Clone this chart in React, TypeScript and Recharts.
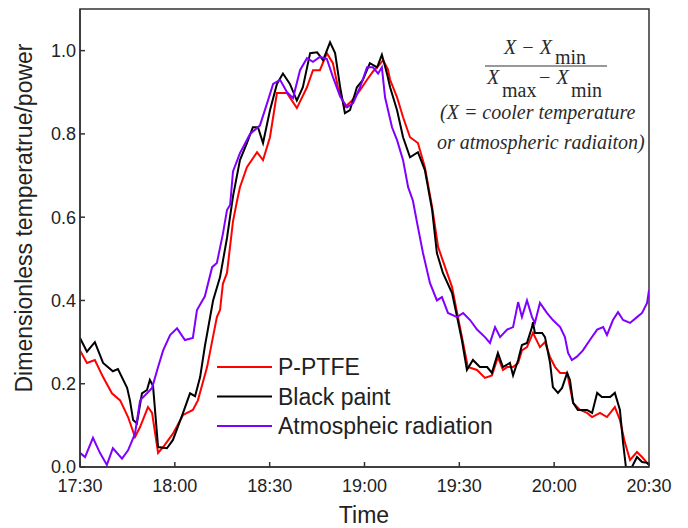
import { LineChart, Line, XAxis, YAxis, ReferenceArea } from 'recharts';

// minutes after 17:30, normalized value
const pptfe: [number, number][] = [
  [0, 0.28], [2.2, 0.25], [4.7, 0.257], [7.3, 0.216], [10.1, 0.177], [12.7, 0.16], [15.2, 0.12],
  [17.4, 0.072], [19, 0.096], [21.5, 0.144], [22.8, 0.13], [24.7, 0.034], [26.3, 0.048], [29.4, 0.08],
  [32.6, 0.125], [35.7, 0.137], [37.3, 0.16], [40.2, 0.24], [43.3, 0.36], [44.3, 0.377], [45.2, 0.44],
  [46.5, 0.466], [48.4, 0.59], [49.7, 0.64], [50.6, 0.672], [52.8, 0.72], [56, 0.756], [57.9, 0.737],
  [60.1, 0.792], [62.3, 0.898], [65.5, 0.898], [68.6, 0.862], [71.8, 0.912], [73.7, 0.953], [75.9, 0.953],
  [78.1, 0.994], [80, 0.97], [81.6, 0.912], [83.8, 0.864], [86, 0.88], [88.6, 0.905], [90.8, 0.93],
  [92.7, 0.95], [94, 0.96], [95.9, 0.977], [97.4, 0.955], [98.1, 0.93], [100.3, 0.888], [102.2, 0.84],
  [104.4, 0.792], [106.9, 0.778], [109.1, 0.72], [111.4, 0.624], [113.3, 0.528], [115.5, 0.48],
  [117.7, 0.432], [119.3, 0.37], [121.2, 0.298], [122.7, 0.24], [125.6, 0.233], [128.1, 0.214],
  [130.3, 0.22], [132.2, 0.264], [133.8, 0.233], [135.1, 0.24], [137, 0.24], [138.6, 0.25], [139.8, 0.28],
  [141.4, 0.288], [143.3, 0.322], [145.5, 0.288], [147.1, 0.3], [148.7, 0.264], [150.3, 0.24],
  [151.9, 0.226], [154.1, 0.226], [155, 0.192], [156, 0.154], [158.2, 0.137], [160.4, 0.13], [162, 0.12],
  [164.5, 0.13], [166.7, 0.12], [169.2, 0.144], [170.8, 0.113], [172.4, 0.058], [174, 0.017],
  [176.2, 0.036], [177.8, 0.024], [179.4, 0.01], [180, 0.005],
];

const blackPaint: [number, number][] = [
  [0, 0.31], [2.2, 0.277], [4.7, 0.3], [7.3, 0.25], [10.4, 0.23], [12, 0.235], [14.9, 0.19], [15.8, 0.16],
  [16.8, 0.113], [18, 0.105], [19.6, 0.177], [21.2, 0.185], [22.1, 0.209], [23.1, 0.195], [24.7, 0.048],
  [27.5, 0.045], [29.4, 0.065], [32.6, 0.13], [34.8, 0.177], [36.4, 0.17], [38, 0.216], [39.5, 0.29],
  [42.1, 0.4], [44.3, 0.456], [46.5, 0.55], [48.4, 0.65], [50.6, 0.737], [52.8, 0.778], [54.7, 0.816],
  [56.3, 0.816], [57.9, 0.778], [60.1, 0.857], [62.3, 0.92], [64.2, 0.945], [66.4, 0.92], [68.6, 0.88],
  [70.5, 0.912], [72.8, 0.994], [75, 0.996], [76.9, 0.977], [79.1, 1.02], [80.7, 0.994], [82.3, 0.912],
  [83.8, 0.85], [85.4, 0.857], [87.6, 0.912], [89.5, 0.93], [91.7, 0.97], [94, 0.96], [95.5, 0.99],
  [97.1, 0.945], [98.1, 0.912], [100.3, 0.857], [102.2, 0.792], [104.4, 0.744], [106.9, 0.756],
  [109.1, 0.713], [111.4, 0.617], [112.9, 0.514], [114.8, 0.466], [117.7, 0.418], [119.3, 0.36],
  [120.8, 0.305], [122.4, 0.233], [124.3, 0.257], [126.5, 0.24], [128.8, 0.24], [130.3, 0.226],
  [132.2, 0.274], [133.8, 0.24], [136, 0.25], [137, 0.22], [138.6, 0.257], [139.8, 0.293], [141.4, 0.298],
  [143, 0.336], [143.3, 0.348], [143.9, 0.322], [146.2, 0.322], [147.1, 0.312], [148.7, 0.25],
  [149.6, 0.192], [151.2, 0.178], [152.5, 0.19], [154.1, 0.226], [155, 0.209], [156, 0.154],
  [157.5, 0.137], [160.4, 0.137], [162, 0.13], [163.6, 0.178], [165.1, 0.168], [167.7, 0.168],
  [169.2, 0.178], [170.8, 0.137], [171.8, 0.058], [172.7, 0.0], [174.6, 0.0], [176.2, 0.024],
  [177.8, 0.012], [179.4, 0.01], [180, 0.005],
];

const atmospheric: [number, number][] = [
  [0, 0.034], [1.6, 0.024], [4.1, 0.07], [6.3, 0.034], [8.5, 0.005], [10.4, 0.045], [13.3, 0.02],
  [15.2, 0.04], [17.4, 0.08], [19, 0.16], [21.2, 0.177], [22.8, 0.19], [24.7, 0.24], [26.3, 0.28],
  [28.5, 0.317], [30.7, 0.333], [33.2, 0.305], [35.7, 0.31], [37, 0.377], [39.5, 0.41], [41.8, 0.48],
  [43.3, 0.49], [45.2, 0.56], [46.5, 0.617], [47.5, 0.63], [48.4, 0.71], [50.6, 0.754], [53.8, 0.8],
  [56.9, 0.82], [59.2, 0.874], [61.1, 0.92], [63.3, 0.93], [65.5, 0.9], [67.4, 0.886], [69.6, 0.953],
  [71.8, 0.982], [73.7, 0.973], [75.9, 0.985], [78.1, 0.98], [80, 0.937], [82.3, 0.89], [84.5, 0.864],
  [86.4, 0.874], [88.6, 0.912], [90.8, 0.96], [92.7, 0.96], [94.3, 0.945], [95.5, 0.96], [96.5, 0.888],
  [98.7, 0.816], [100.3, 0.785], [102.2, 0.737], [103.8, 0.672], [105.3, 0.64], [106.9, 0.576],
  [108.5, 0.514], [110.7, 0.442], [112.9, 0.4], [114.5, 0.408], [116.4, 0.37], [119.3, 0.36],
  [121.2, 0.37], [123.4, 0.353], [125.6, 0.33], [128.1, 0.312], [129.7, 0.298], [131.3, 0.336],
  [132.9, 0.312], [135.1, 0.33], [137, 0.336], [138.6, 0.396], [139.8, 0.36], [141.4, 0.4], [143, 0.36],
  [143.9, 0.346], [145.5, 0.394], [147.7, 0.37], [149.6, 0.353], [151.9, 0.336], [153.4, 0.312],
  [154.4, 0.274], [155.6, 0.257], [157.2, 0.265], [159.1, 0.28], [161.3, 0.305], [163.6, 0.33],
  [165.5, 0.336], [166.7, 0.317], [168.6, 0.353], [170.2, 0.372], [171.8, 0.353], [174, 0.346],
  [176.2, 0.36], [177.8, 0.37], [179.4, 0.394], [180, 0.425],
];

const xTicks = [0, 30, 60, 90, 120, 150, 180];
const xTickLabels = ['17:30', '18:00', '18:30', '19:00', '19:30', '20:00', '20:30'];
const yTicks = [0, 0.2, 0.4, 0.6, 0.8, 1.0];

const seriesNames = ['P-PTFE', 'Black paint', 'Atmospheic radiation'];
const seriesColors = ['#ff0000', '#000000', '#8000ff'];

const toRows = (pts: [number, number][]) => pts.map(([t, v]) => ({ t, v }));

const SANS = '"Liberation Sans", Arial, sans-serif';
const SERIF = '"Liberation Serif", "Times New Roman", serif';
const AXIS = '#333333';

export default function App() {
  const series = [pptfe, blackPaint, atmospheric];
  return (
    <div style={{ position: 'absolute', left: 0, top: 0, width: 688, height: 528, background: '#fff' }}>
      <LineChart width={688} height={528} margin={{ top: 9, right: 39, left: 0, bottom: 0 }}>
        <XAxis
          dataKey="t"
          type="number"
          domain={[0, 180]}
          ticks={xTicks}
          tickFormatter={(v) => xTickLabels[xTicks.indexOf(v)] ?? ''}
          height={61}
          tickSize={-5}
          tickMargin={17}
          stroke={AXIS}
          strokeWidth={1.5}
          tick={{ fill: '#222', fontSize: 18, fontFamily: SANS }}
          allowDataOverflow
        />
        <YAxis
          type="number"
          domain={[0, 1.1]}
          ticks={yTicks}
          tickFormatter={(v) => v.toFixed(1)}
          width={80}
          tickSize={-5}
          tickMargin={9}
          stroke={AXIS}
          strokeWidth={1.5}
          tick={{ fill: '#222', fontSize: 18, fontFamily: SANS }}
          allowDataOverflow
        />
        <ReferenceArea x1={0} x2={180} y1={0} y2={1.1} fill="none" stroke={AXIS} strokeWidth={1.5} />
        {series.map((pts, i) => (
          <Line
            key={seriesNames[i]}
            data={toRows(pts)}
            dataKey="v"
            name={seriesNames[i]}
            type="linear"
            stroke={seriesColors[i]}
            strokeWidth={2}
            dot={false}
            isAnimationActive={false}
          />
        ))}
      </LineChart>

      <svg width={688} height={528} style={{ position: 'absolute', left: 0, top: 0, pointerEvents: 'none' }}>
        {/* axis titles */}
        <text
          x={24}
          y={218}
          transform="rotate(-90 24 218)"
          textAnchor="middle"
          dominantBaseline="central"
          fontFamily={SANS}
          fontSize={23}
          fill="#222"
        >
          Dimensionless temperatrue/power
        </text>
        <text x={364} y={515} textAnchor="middle" dominantBaseline="central" fontFamily={SANS} fontSize={23} fill="#222">
          Time
        </text>

        {/* legend */}
        {seriesNames.map((name, i) => (
          <g key={name}>
            <line x1={217} x2={272} y1={367 + i * 29.5} y2={367 + i * 29.5} stroke={seriesColors[i]} strokeWidth={2} />
            <text x={278} y={367 + i * 29.5} dominantBaseline="central" fontFamily={SANS} fontSize={23} fill="#222">
              {name}
            </text>
          </g>
        ))}

        {/* normalisation formula */}
        <g fontFamily={SERIF} fontSize={20} fill="#2a2a2a">
          <text x={504} y={54} fontStyle="italic">X − X</text>
          <text x={555} y={64}>min</text>
          <line x1={485} x2={607} y1={66} y2={66} stroke="#333" strokeWidth={1.2} />
          <text x={487} y={84} fontStyle="italic">X</text>
          <text x={502} y={97}>max</text>
          <text x={538} y={84} fontStyle="italic">− X</text>
          <text x={571} y={97}>min</text>
          <text x={440} y={119} fontStyle="italic">(X = cooler temperature</text>
          <text x={437} y={149} fontStyle="italic">or atmospheric radiaiton)</text>
        </g>
      </svg>
    </div>
  );
}
